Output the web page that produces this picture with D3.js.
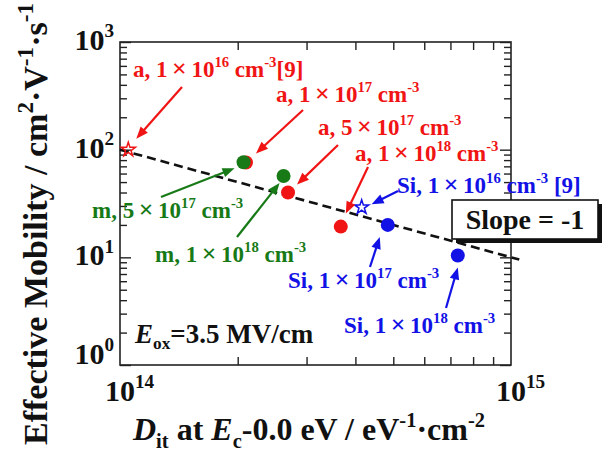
<!DOCTYPE html>
<html>
<head>
<meta charset="utf-8">
<script src="https://cdn.jsdelivr.net/npm/d3@7"></script>
<style>
  html, body { margin: 0; padding: 0; background: #fff; }
  svg { display: block; font-family: "Liberation Serif", "Times New Roman", serif; font-weight: bold; }
</style>
</head>
<body>
<svg id="chart" width="608" height="452"></svg>
<script>
// Effective mobility vs. interface trap density at Ec
const aDit = [1.05e14, 2.10e14, 2.69e14, 3.67e14];
const aMu  = [100, 76, 40, 19.3];
const aDoping = ["1×10^16", "1×10^17", "5×10^17", "1×10^18"];

const mDit = [2.07e14, 2.62e14];
const mMu  = [76.4, 57];
const mDoping = ["5×10^17", "1×10^18"];

const siDit = [4.15e14, 4.84e14, 7.31e14];
const siMu  = [29.2, 20.0, 10.4];
const siDoping = ["1×10^16", "1×10^17", "1×10^18"];

// points taken from reference [9] are drawn as open stars
const aRef = [true, false, false, false];
const siRef = [true, false, false];

// guide line with slope -1: mu = K / Dit
const slopeK = 1e16;
const slopeDit = [1e14, 1.05e15];

const xTicks = [1e14, 1e15];
const yTicks = [1, 10, 100, 1000];

const COLORS = { a: "#f01414", m: "#177a17", si: "#1212e6" };

const svg = d3.select("#chart");
const x = d3.scaleLog().domain([1e14, 1e15]).range([120, 511]);
const y = d3.scaleLog().domain([1, 1000]).range([365, 42]);

// text with superscript / subscript / italic runs; "x" kind widens a times sign
function rich(text, parts, size, supRatio) {
  supRatio = supRatio || 0.64;
  let shift = 0;
  parts.forEach(([t, k]) => {
    k = k || "";
    const sup = k.indexOf("sup") >= 0, sub = k.indexOf("sub") >= 0, it = k.indexOf("it") >= 0;
    const target = sup ? -0.42 * size : sub ? 0.24 * size : 0;
    const ts = text.append("tspan").text(t).attr("dy", target - shift);
    shift = target;
    if (sup || sub) ts.attr("font-size", size * supRatio);
    if (it) ts.attr("font-style", "italic");
    if (k === "times") ts.attr("dx", size * 0.2).attr("font-size", size * 1.12);
    if (k === "after") ts.attr("dx", size * 0.2);
  });
}
function dopingParts(prefix, dop, suffix) {
  const [mant, exp] = dop.split("^");
  const [a, b] = mant.split("×");
  const parts = [[prefix + a], ["×", "times"], [b, "after"]];
  parts.push([exp, "sup"], [" cm"], ["-3", "sup"]);
  if (suffix) parts.push([suffix]);
  return parts;
}

// axes: ticks point inward on all four sides
const minorX = [];
for (let d = 1e14; d < 1e15; d *= 10) for (let k = 2; k <= 9; k++) minorX.push(d * k);
const minorY = [];
for (let d = 1; d < 1000; d *= 10) for (let k = 2; k <= 9; k++) minorY.push(d * k);

function axisGroup(axis, tx, ty) {
  const g = svg.append("g").attr("transform", `translate(${tx},${ty})`).call(axis);
  g.selectAll("text").remove();
  g.select(".domain").remove();
  g.selectAll("line").attr("stroke", "#222").attr("stroke-width", 1.4);
  return g;
}
axisGroup(d3.axisBottom(x).tickValues(minorX).tickSize(-8), 0, 365);
axisGroup(d3.axisTop(x).tickValues(minorX).tickSize(-8), 0, 42);
axisGroup(d3.axisLeft(y).tickValues(minorY).tickSize(-7), 120, 0);
axisGroup(d3.axisRight(y).tickValues(minorY).tickSize(-7), 511, 0);
axisGroup(d3.axisLeft(y).tickValues(yTicks).tickSize(-11), 120, 0);
axisGroup(d3.axisRight(y).tickValues(yTicks).tickSize(-11), 511, 0);

svg.append("rect")
  .attr("x", x(1e14)).attr("y", y(1000))
  .attr("width", x(1e15) - x(1e14)).attr("height", y(1) - y(1000))
  .attr("fill", "none").attr("stroke", "#222").attr("stroke-width", 1.6);

// tick labels
yTicks.forEach(v => {
  const t = svg.append("text")
    .attr("x", 114).attr("y", y(v) + (v === 1 ? -1 : 8))
    .attr("text-anchor", "end").attr("font-size", 30).attr("fill", "#111");
  rich(t, [["10"], [String(Math.round(Math.log10(v))), "sup"]], 30);
});
xTicks.forEach(v => {
  const t = svg.append("text")
    .attr("x", x(v) - 15).attr("y", 401)
    .attr("font-size", 30).attr("fill", "#111");
  rich(t, [["10"], [String(Math.round(Math.log10(v))), "sup"]], 30);
});

// axis titles
const xt = svg.append("text").attr("x", 133).attr("y", 440).attr("font-size", 32).attr("fill", "#111");
rich(xt, [["D", "it"], ["it", "sub"], [" at "], ["E", "it"], ["c", "sub"], ["-0.0 eV / eV"], ["-1", "sup"], ["·cm"], ["-2", "sup"]], 32);

const yt = svg.append("text").attr("transform", "translate(47,224) rotate(-90)")
  .attr("text-anchor", "middle").attr("font-size", 34).attr("fill", "#111");
rich(yt, [["Effective Mobility / cm"], ["2", "sup"], ["·V"], ["-1", "sup"], ["·s"], ["-1", "sup"]], 34, 0.68);

// slope -1 guide
svg.append("path")
  .attr("d", d3.line().x(d => x(d)).y(d => y(slopeK / d))(slopeDit))
  .attr("fill", "none").attr("stroke", "#111").attr("stroke-width", 2.6)
  .attr("stroke-dasharray", "9,5");

// markers
const star = d3.symbol().type(d3.symbolStar).size(62);
function drawPoints(dit, mu, refs, color) {
  dit.forEach((d, i) => {
    if (refs && refs[i]) {
      svg.append("path").attr("d", star())
        .attr("transform", `translate(${x(d)},${y(mu[i])})`)
        .attr("fill", "none").attr("stroke", color).attr("stroke-width", 1.5);
    } else {
      svg.append("circle").attr("cx", x(d)).attr("cy", y(mu[i])).attr("r", 7).attr("fill", color);
    }
  });
}
drawPoints(aDit, aMu, aRef, COLORS.a);
drawPoints(mDit, mMu, null, COLORS.m);
drawPoints(siDit, siMu, siRef, COLORS.si);

// annotations: label start, arrow tail, arrowhead offset from its marker
function arrow(x0, y0, x1, y1, color) {
  const L = 12, W = 4.8;
  const dx = x1 - x0, dy = y1 - y0, len = Math.hypot(dx, dy);
  const ux = dx / len, uy = dy / len;
  const bx = x1 - ux * L, by = y1 - uy * L;
  svg.append("line").attr("x1", x0).attr("y1", y0).attr("x2", bx + ux).attr("y2", by + uy)
    .attr("stroke", color).attr("stroke-width", 2.2);
  svg.append("path")
    .attr("d", `M${x1},${y1}L${bx - uy * W},${by + ux * W}L${bx + uy * W},${by - ux * W}Z`)
    .attr("fill", color);
}
function annotate(label, lx, ly, tail, head, px, py, color) {
  const t = svg.append("text").attr("x", lx).attr("y", ly).attr("font-size", 23).attr("fill", color);
  rich(t, label, 23);
  arrow(tail[0], tail[1], px + head[0], py + head[1], color);
}

annotate(dopingParts("a, ", aDoping[0], "[9]"), 133, 77, [182, 87], [8, -11], x(aDit[0]), y(aMu[0]), COLORS.a);
annotate(dopingParts("a, ", aDoping[1]), 276, 102, [303, 110], [10, -9], x(aDit[1]), y(aMu[1]), COLORS.a);
annotate(dopingParts("a, ", aDoping[2]), 318, 135, [338, 145], [9, -8], x(aDit[2]), y(aMu[2]), COLORS.a);
annotate(dopingParts("a, ", aDoping[3]), 355, 161, [368, 167], [5, -13], x(aDit[3]), y(aMu[3]), COLORS.a);
annotate(dopingParts("Si, ", siDoping[0], " [9]"), 397, 193, [398, 191], [10, -3], x(siDit[0]), y(siMu[0]), COLORS.si);
annotate(dopingParts("Si, ", siDoping[1]), 288, 288, [370, 267], [-8, 12], x(siDit[1]), y(siMu[1]), COLORS.si);
annotate(dopingParts("Si, ", siDoping[2]), 344, 333, [446, 308], [0, 12], x(siDit[2]), y(siMu[2]), COLORS.si);
annotate(dopingParts("m, ", mDoping[0]), 92, 218, [161, 197], [-9, 6], x(mDit[0]), y(mMu[0]), COLORS.m);
annotate(dopingParts("m, ", mDoping[1]), 155, 262, [237, 237], [-4, 7], x(mDit[1]), y(mMu[1]), COLORS.m);

// field label
const ef = svg.append("text").attr("x", 135).attr("y", 343).attr("font-size", 27).attr("fill", "#111");
rich(ef, [["E", "it"], ["ox", "sub"], ["=3.5 MV/cm"]], 27);

// slope box with drop shadow
const box = { x: 452, y: 200, w: 146, h: 39 };
svg.append("rect").attr("x", box.x + 4).attr("y", box.y + 4).attr("width", box.w).attr("height", box.h).attr("fill", "#111");
svg.append("rect").attr("x", box.x).attr("y", box.y).attr("width", box.w).attr("height", box.h)
  .attr("fill", "#fff").attr("stroke", "#111").attr("stroke-width", 1.6);
svg.append("text").attr("x", box.x + box.w / 2).attr("y", box.y + 29)
  .attr("text-anchor", "middle").attr("font-size", 28).attr("fill", "#111").text("Slope = -1");
</script>
</body>
</html>
